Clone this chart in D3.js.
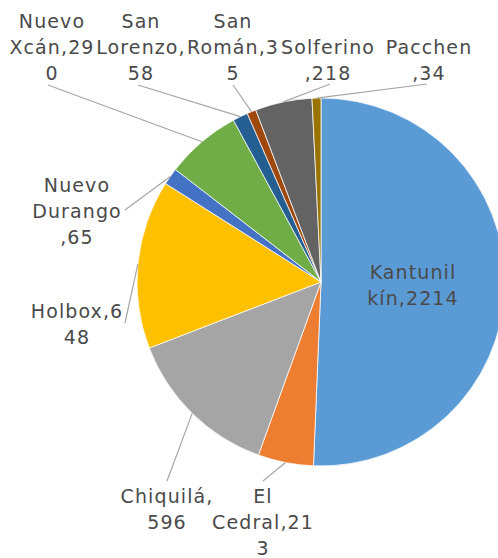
<!DOCTYPE html>
<html>
<head>
<meta charset="utf-8">
<script src="https://cdn.jsdelivr.net/npm/d3@7"></script>
<style>
html,body{margin:0;padding:0;background:#fff;}
svg{display:block;}
</style>
</head>
<body>
<svg id="chart" width="498" height="558"></svg>
<script>
// Data
const categories = ["Kantunilkín","El Cedral","Chiquilá","Holbox","Nuevo Durango","Nuevo Xcán","San Lorenzo","San Román","Solferino","Pacchen"];
const values = [2214, 213, 596, 648, 65, 290, 58, 35, 218, 34];
const colors = ["#5B9BD5","#ED7D31","#A5A5A5","#FFC000","#4472C4","#70AD47","#255E91","#9E480E","#636363","#997300"];

// Layout (label placement, line breaks as character indices in "name,value")
const labelLayout = [
  {x:413, y:279, breaks:[8], leader:false},
  {x:263, y:503, breaks:[3,12], leader:true},
  {x:167, y:503, breaks:[9], leader:true},
  {x:77,  y:318, breaks:[8], leader:true},
  {x:77,  y:192, breaks:[6,13], leader:true},
  {x:52,  y:28,  breaks:[6,13], leader:true},
  {x:141, y:28,  breaks:[4,12], leader:true},
  {x:233, y:28,  breaks:[4,11], leader:true},
  {x:328, y:54,  breaks:[9], leader:true},
  {x:429, y:54,  breaks:[7], leader:true}
];
const leaderStart = [null,[263,481],[167,481],[125,323],[125,210],[48,85],[138,85],[233,85],[330,84],[427,84]];

const cx = 321, cy = 282, r = 184, lineH = 26;

const svg = d3.select("#chart");
const g = svg.append("g").attr("transform", `translate(${cx},${cy})`);

const pie = d3.pie().sort(null).value(d => d)(values);
const arc = d3.arc().innerRadius(0).outerRadius(r);

g.selectAll("path.slice").data(pie).enter().append("path")
  .attr("class","slice")
  .attr("d", arc)
  .attr("fill", (d,i) => colors[i])
  .attr("stroke", "#ffffff")
  .attr("stroke-width", 0.75);

// leader lines
pie.forEach((d,i) => {
  const L = labelLayout[i];
  if (!L.leader) return;
  const a = (d.startAngle + d.endAngle) / 2;
  const ex = cx + r * Math.sin(a), ey = cy - r * Math.cos(a);
  const s = leaderStart[i];
  svg.append("line")
    .attr("x1", s[0]).attr("y1", s[1])
    .attr("x2", ex).attr("y2", ey)
    .attr("stroke", "#A6A6A6").attr("stroke-width", 1.2);
});

// labels
pie.forEach((d,i) => {
  const L = labelLayout[i];
  const full = categories[i] + "," + values[i];
  const idx = [0].concat(L.breaks).concat([full.length]);
  const lines = [];
  for (let k = 0; k < idx.length - 1; k++) lines.push(full.slice(idx[k], idx[k+1]).trim());
  const t = svg.append("text")
    .attr("text-anchor","middle")
    .attr("font-family","'DejaVu Sans', sans-serif")
    .attr("font-size", 19)
    .attr("letter-spacing", 1.1)
    .attr("fill","#4a4a4a");
  lines.forEach((ln,k) => {
    t.append("tspan").attr("x", L.x).attr("y", L.y + k*lineH).text(ln);
  });
});
</script>
</body>
</html>
